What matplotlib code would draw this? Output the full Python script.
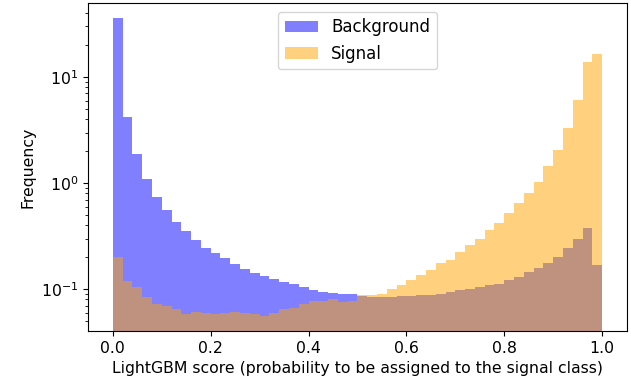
import matplotlib
matplotlib.use("Agg")
import matplotlib.pyplot as plt
import numpy as np

# 50 bins over [0, 1], density values (log axis)
bin_edges = np.linspace(0.0, 1.0, 51)

background = [36.3, 4.2, 1.88, 1.09, 0.74, 0.556, 0.43, 0.352, 0.29, 0.247,
              0.22, 0.195, 0.172, 0.155, 0.143, 0.134, 0.126, 0.118, 0.111, 0.105,
              0.099, 0.094, 0.092, 0.091, 0.090, 0.087, 0.085, 0.085, 0.085, 0.086,
              0.086, 0.088, 0.089, 0.091, 0.094, 0.098, 0.101, 0.105, 0.109, 0.113,
              0.122, 0.131, 0.146, 0.157, 0.175, 0.202, 0.242, 0.300, 0.374, 0.168]

signal = [0.20, 0.12, 0.105, 0.085, 0.073, 0.069, 0.065, 0.058, 0.061, 0.059,
          0.058, 0.059, 0.061, 0.060, 0.058, 0.056, 0.059, 0.065, 0.066, 0.073,
          0.077, 0.077, 0.080, 0.075, 0.077, 0.088, 0.089, 0.091, 0.101, 0.109,
          0.122, 0.136, 0.152, 0.175, 0.19, 0.225, 0.26, 0.30, 0.36, 0.417,
          0.518, 0.643, 0.80, 1.03, 1.45, 2.05, 3.28, 6.06, 13.9, 16.5]

centers = (bin_edges[:-1] + bin_edges[1:]) / 2

plt.rcParams["font.size"] = 11.3

fig, ax = plt.subplots(figsize=(6.31, 3.78), dpi=100)
fig.subplots_adjust(left=0.14, right=0.993, top=0.991, bottom=0.124)

ax.hist(centers, bins=bin_edges, weights=background, color="blue", alpha=0.5,
        label="Background", log=True)
ax.hist(centers, bins=bin_edges, weights=signal, color="orange", alpha=0.5,
        label="Signal", log=True)

ax.set_ylim(0.0402, 49.5)
ax.set_xlabel("LightGBM score (probability to be assigned to the signal class)")
ax.set_ylabel("Frequency")
ax.legend(loc="upper center", fontsize=12)

fig.savefig("out.png", dpi=100)
